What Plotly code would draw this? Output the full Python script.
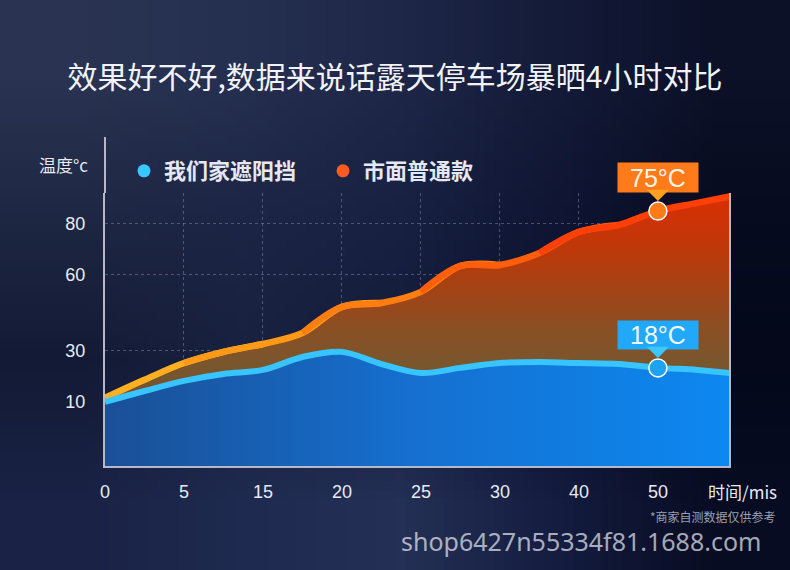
import plotly.graph_objects as go
import zlib, struct, base64

# ---------------- data ----------------
time_labels = ['0', '5', '15', '20', '25', '30', '40', '50']      # x tick labels (evenly spaced)
# positions along the time-label axis (in label steps) at which the curves were read
sample_steps = [0, 0.5, 1, 1.5, 2, 2.5, 3, 3.5, 4, 4.5, 5, 5.5, 6, 6.5, 7, 7.5, 8]
ours_temp = [9.9, 14.2, 18.2, 20.9, 22.5, 27.6, 29.6, 24.8, 21.3, 23.3, 25.2, 25.6, 25.2, 24.8, 23.3, 22.5, 20.9]
common_temp = [11.5, 18.6, 25.2, 29.6, 32.7, 37.0, 47.3, 48.8, 53.2, 63.4, 63.8, 68.5, 76.8, 79.5, 85.0, 88.2, 91.3]
y_ticks = [10, 30, 60, 80]
series_names = ['我们家遮阳挡', '市面普通款']
final_ours_label = 18
final_common_label = 75
title_text = '效果好不好,数据来说话露天停车场暴晒4小时对比'

# ---------------- geometry / style ----------------
W, H = 790, 570
ML, MR, MT, MB = 105, 61, 193, 104
PW, PH = W - ML - MR, H - MT - MB
X_RANGE = [0, 7.9]
Y_RANGE = [-15.3, 92.1]

def fx(px):
    return (px - ML) / PW

def fy(py):
    return (H - MB - py) / PH

CJK = 'Noto Sans CJK SC, Noto Sans, sans-serif'
LAT = 'Liberation Sans, Arial, Noto Sans CJK SC, sans-serif'
AXIS_COL = '#b4b8c8'
GRID_COL = 'rgba(140,150,185,0.45)'

# background gradient image (tiny PNG stretched smoothly)
bg_rows = [
    [(42, 52, 82), (37, 47, 80), (31, 39, 72), (20, 27, 56), (12, 17, 40)],
    [(30, 39, 66), (28, 37, 69), (24, 33, 66), (15, 21, 51), (7, 11, 31)],
    [(19, 26, 53), (24, 33, 63), (20, 27, 58), (10, 15, 40), (4, 8, 26)],
    [(26, 35, 70), (31, 42, 80), (36, 48, 86), (20, 28, 64), (8, 12, 34)],
]

def make_png(rows):
    h, w = len(rows), len(rows[0])
    raw = b''.join(b'\x00' + bytes([c for px in row for c in px]) for row in rows)

    def chunk(t, d):
        return struct.pack('>I', len(d)) + t + d + struct.pack('>I', zlib.crc32(t + d) & 0xffffffff)

    png = (b'\x89PNG\r\n\x1a\n' + chunk(b'IHDR', struct.pack('>IIBBBBB', w, h, 8, 2, 0, 0, 0))
           + chunk(b'IDAT', zlib.compress(raw)) + chunk(b'IEND', b''))
    return 'data:image/png;base64,' + base64.b64encode(png).decode()

fig = go.Figure()

base = [Y_RANGE[0]] * len(sample_steps)

# orange area
fig.add_trace(go.Scatter(x=sample_steps, y=base, mode='lines', line=dict(width=0),
                         showlegend=False, hoverinfo='skip'))
fig.add_trace(go.Scatter(
    x=sample_steps, y=common_temp, mode='lines', line=dict(width=0, shape='spline'),
    fill='tonexty',
    fillgradient=dict(type='vertical', start=Y_RANGE[0], stop=Y_RANGE[1], colorscale=[
        [0, 'rgb(95,75,52)'], [0.376, 'rgb(122,86,45)'], [0.515, 'rgb(140,78,35)'],
        [0.655, 'rgb(165,66,20)'], [0.795, 'rgb(190,56,10)'], [1, 'rgb(218,46,4)']]),
    showlegend=False, hoverinfo='skip'))

# blue area
fig.add_trace(go.Scatter(x=sample_steps, y=base, mode='lines', line=dict(width=0),
                         showlegend=False, hoverinfo='skip'))
fig.add_trace(go.Scatter(
    x=sample_steps, y=ours_temp, mode='lines', line=dict(width=0, shape='spline'),
    fill='tonexty',
    fillgradient=dict(type='horizontal', start=X_RANGE[0], stop=X_RANGE[1], colorscale=[
        [0, '#1a4f96'], [0.5, '#1570d0'], [1, '#0c88f0']]),
    showlegend=False, hoverinfo='skip'))

# orange line with left-to-right colour gradient (overlapping slices of the same series)
bounds = [0, 3, 6, 9, 12, 16]
seg_cols = ['#ffb020', '#ff9a18', '#ff7e12', '#ff5e0c', '#ff4006']
n = len(sample_steps)
for i, col in enumerate(seg_cols):
    lo = max(0, bounds[i] - 1)
    hi = min(n - 1, bounds[i + 1] + 1)
    fig.add_trace(go.Scatter(x=sample_steps[lo:hi + 1], y=common_temp[lo:hi + 1], mode='lines',
                             line=dict(color=col, width=6.5, shape='spline'),
                             showlegend=False, hoverinfo='skip'))

# blue line
fig.add_trace(go.Scatter(x=sample_steps, y=ours_temp, mode='lines',
                         line=dict(color='#38c4ff', width=6, shape='spline'),
                         showlegend=False, hoverinfo='skip'))

# end-point markers at the "50" label
k50 = sample_steps.index(time_labels.index('50'))
fig.add_trace(go.Scatter(x=[sample_steps[k50]], y=[common_temp[k50]], mode='markers',
                         marker=dict(size=18, color='#ff7a18', line=dict(color='white', width=1.5)),
                         cliponaxis=False, showlegend=False, hoverinfo='skip'))
fig.add_trace(go.Scatter(x=[sample_steps[k50]], y=[ours_temp[k50]], mode='markers',
                         marker=dict(size=18, color='#1ea2f2', line=dict(color='white', width=1.5)),
                         cliponaxis=False, showlegend=False, hoverinfo='skip'))

# legend entries
fig.add_trace(go.Scatter(x=[None], y=[None], mode='markers', name=series_names[0],
                         marker=dict(size=13, color='#38c8ff')))
fig.add_trace(go.Scatter(x=[None], y=[None], mode='markers', name=series_names[1],
                         marker=dict(size=13, color='#ff5a20')))

annotations = [
    dict(x=sample_steps[k50], y=common_temp[k50], xref='x', yref='y', text=f'{final_common_label}°C',
         showarrow=True, ax=0, ay=-34, arrowhead=1, arrowsize=1.7, arrowwidth=2.2, arrowcolor='#ffa020',
         standoff=10, bgcolor='#ff7a18', width=78, height=27,
         font=dict(family=LAT, size=25, color='#fff4ea')),
    dict(x=sample_steps[k50], y=ours_temp[k50], xref='x', yref='y', text=f'{final_ours_label}°C',
         showarrow=True, ax=0, ay=-33, arrowhead=1, arrowsize=1.7, arrowwidth=2.2, arrowcolor='#3cc8ff',
         standoff=10, bgcolor='#22a8f8', width=78, height=26,
         font=dict(family=LAT, size=25, color='#eef8ff')),
    dict(x=fx(63), y=fy(165), xref='paper', yref='paper', text='温度°c', showarrow=False,
         xanchor='center', yanchor='middle',
         font=dict(family=CJK, size=17, color='#e8eaf2')),
    dict(x=fx(742), y=fy(491), xref='paper', yref='paper', text='时间/mis', showarrow=False,
         xanchor='center', yanchor='middle',
         font=dict(family=CJK, size=17, color='#e8eaf2')),
    dict(x=fx(713), y=fy(516), xref='paper', yref='paper', text='*商家自测数据仅供参考', showarrow=False,
         xanchor='center', yanchor='middle',
         font=dict(family=CJK, size=12, color='#9aa0b4')),
    dict(x=fx(581), y=fy(541), xref='paper', yref='paper', text='shop6427n55334f81.1688.com',
         showarrow=False, xanchor='center', yanchor='middle',
         font=dict(family='Noto Sans, sans-serif', size=25, color='rgba(228,230,240,0.72)')),
]

fig.update_layout(
    width=W, height=H,
    margin=dict(l=ML, r=MR, t=MT, b=MB, pad=0),
    paper_bgcolor='#151c38', plot_bgcolor='rgba(0,0,0,0)',
    title=dict(text=title_text, x=0.5, xref='container', xanchor='center',
               y=1 - 77 / H, yref='container', yanchor='middle',
               font=dict(family=CJK, size=30, color='#f2f3f8')),
    images=[dict(source=make_png(bg_rows), xref='paper', yref='paper',
                 x=-ML / PW, y=1 + MT / PH, sizex=W / PW, sizey=H / PH,
                 xanchor='left', yanchor='top', sizing='stretch', layer='below')],
    xaxis=dict(range=X_RANGE, tickvals=list(range(len(time_labels))), ticktext=time_labels,
               showgrid=True, gridcolor=GRID_COL, griddash='dot', gridwidth=1,
               showline=True, linecolor=AXIS_COL, linewidth=2, zeroline=False,
               ticks='', ticklabelstandoff=8,
               tickfont=dict(family=LAT, size=18, color='#e8eaf2'), fixedrange=True),
    yaxis=dict(range=Y_RANGE, tickvals=y_ticks, ticktext=[str(v) for v in y_ticks],
               showgrid=True, gridcolor=GRID_COL, griddash='dot', gridwidth=1,
               showline=True, mirror=True, linecolor=AXIS_COL, linewidth=2, zeroline=False,
               ticks='', ticklabelstandoff=14,
               tickfont=dict(family=LAT, size=18, color='#e8eaf2'), fixedrange=True),
    legend=dict(orientation='h', traceorder='normal', x=fx(124), y=fy(171), xanchor='left', yanchor='middle',
                entrywidth=154, entrywidthmode='pixels',
                bgcolor='rgba(0,0,0,0)', font=dict(family=CJK, size=22, color='#e6e8f0', weight='bold'),
                itemclick=False, itemdoubleclick=False),
    shapes=[dict(type='line', xref='paper', yref='paper', x0=0, x1=0, y0=1, y1=fy(137),
                 line=dict(color=AXIS_COL, width=2))],
    annotations=annotations,
    showlegend=True,
    hovermode=False,
)

fig.write_html('out.html', config={'displayModeBar': False},
               post_script="document.body.style.margin='0';document.body.style.overflow='hidden';")
